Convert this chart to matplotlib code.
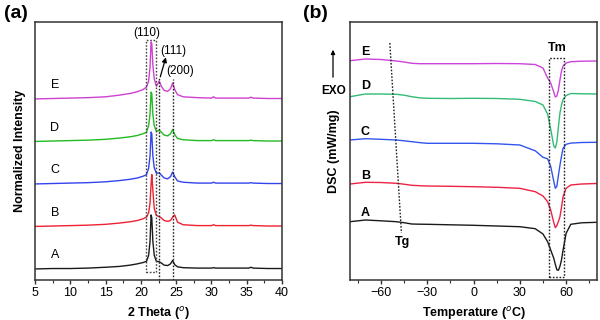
import matplotlib
matplotlib.use("Agg")
import matplotlib.pyplot as plt
from matplotlib.ticker import MultipleLocator, NullLocator

plt.rcParams['font.family'] = ['Liberation Sans', 'DejaVu Sans']

# ---------------- (a) XRD data ----------------
two_theta = [5, 7.5, 10, 12.5, 15, 17, 18.5, 19.5, 20.3, 20.8, 21.1, 21.3, 21.45, 21.55,
             21.7, 21.9, 22.2, 22.6, 22.9, 23.3, 23.8, 24.2, 24.5, 24.8, 25.2, 26, 28, 30,
             30.3, 30.6, 33, 35.3, 35.6, 35.9, 38, 40]
xrd_A = [0, 0.01, 0.01, 0.02, 0.04, 0.06, 0.09, 0.12, 0.15, 0.18, 0.32, 0.65, 1.27, 1.2,
         0.65, 0.32, 0.18, 0.17, 0.14, 0.09, 0.08, 0.12, 0.2, 0.1, 0.05, 0.03, 0.02, 0.02,
         0.03, 0.02, 0.02, 0.02, 0.04, 0.02, 0.01, 0.01]
xrd_B = [0, 0.01, 0.02, 0.03, 0.05, 0.08, 0.11, 0.14, 0.18, 0.22, 0.32, 0.55, 1.0, 1.22,
         0.85, 0.42, 0.26, 0.23, 0.2, 0.14, 0.12, 0.14, 0.22, 0.27, 0.1, 0.04, 0.02, 0.02,
         0.04, 0.02, 0.02, 0.02, 0.03, 0.02, 0.01, 0.01]
xrd_C = [0, 0.01, 0.02, 0.03, 0.05, 0.08, 0.11, 0.14, 0.18, 0.22, 0.37, 0.66, 1.22, 1.18,
         0.66, 0.38, 0.25, 0.26, 0.21, 0.14, 0.12, 0.17, 0.28, 0.17, 0.07, 0.04, 0.02, 0.02,
         0.04, 0.02, 0.02, 0.02, 0.03, 0.02, 0.01, 0.01]
xrd_D = [0, 0.01, 0.02, 0.03, 0.05, 0.08, 0.11, 0.14, 0.18, 0.22, 0.37, 0.64, 1.16, 1.12,
         0.64, 0.37, 0.24, 0.26, 0.22, 0.15, 0.13, 0.18, 0.28, 0.16, 0.07, 0.04, 0.02, 0.02,
         0.04, 0.02, 0.02, 0.02, 0.03, 0.02, 0.01, 0.01]
xrd_E = [0, 0.01, 0.02, 0.03, 0.05, 0.09, 0.13, 0.17, 0.22, 0.28, 0.42, 0.75, 1.34, 1.3,
         0.8, 0.47, 0.3, 0.42, 0.3, 0.2, 0.18, 0.24, 0.37, 0.22, 0.1, 0.05, 0.03, 0.02,
         0.05, 0.02, 0.02, 0.02, 0.04, 0.02, 0.01, 0.01]
xrd_offsets = [0, 1, 2, 3, 4]
sample_names = ['A', 'B', 'C', 'D', 'E']
xrd_colors = ['#1a1a1a', '#ee2233', '#3344ee', '#22bb22', '#d040d0']
xrd_xticks = [5, 10, 15, 20, 25, 30, 35, 40]

# ---------------- (b) DSC data ----------------
temperature = [-80, -70, -60, -50, -45, -40, -35, -30, -15, 0, 15, 30, 40, 45, 48, 50,
               52, 53, 54, 55, 56, 57, 58, 60, 63, 70, 80]
dsc_A = [0.06, 0.23, 0.15, 0.06, -0.04, -0.17, -0.19, -0.2, -0.25, -0.3, -0.37, -0.44,
         -0.64, -1.17, -1.94, -2.77, -3.6, -4.2, -4.75, -4.8, -4.4, -3.77, -2.8, -1.1,
         -0.2, -0.05, 0]
dsc_B = [-0.05, 0.12, 0.1, 0.02, -0.07, -0.18, -0.22, -0.25, -0.28, -0.32, -0.38, -0.48,
         -0.82, -1.25, -1.82, -2.65, -3.9, -4.42, -4.2, -3.8, -3.32, -2.4, -1.32, -0.48,
         -0.15, -0.05, 0]
dsc_C = [0.23, 0.36, 0.3, 0.23, 0.15, 0.06, -0.03, -0.1, -0.1, -0.1, -0.15, -0.27,
         -0.85, -1.5, -1.65, -2.4, -3.9, -4.6, -4.4, -3.3, -2.3, -1.4, -0.6, -0.2,
         -0.08, -0.02, 0]
dsc_D = [-0.27, 0.0, 0.0, -0.03, -0.12, -0.27, -0.38, -0.43, -0.45, -0.43, -0.45, -0.53,
         -0.75, -1.1, -2.0, -3.5, -5.2, -5.4, -4.8, -3.3, -1.9, -1.1, -0.55, -0.15,
         0.05, 0.02, 0]
dsc_E = [0.03, 0.2, 0.15, 0.0, -0.1, -0.23, -0.27, -0.27, -0.27, -0.27, -0.25, -0.27,
         -0.35, -0.7, -1.7, -2.2, -3.1, -3.6, -3.5, -2.9, -1.9, -1.0, -0.5, -0.2,
         -0.07, -0.02, 0]
dsc_offsets = [5.77, 9.65, 13.77, 18.6, 21.9]
dsc_colors = ['#1a1a1a', '#ee2244', '#3355ee', '#33bb77', '#cc44dd']
dsc_xticks = [-60, -30, 0, 30, 60]

fig = plt.figure(figsize=(6, 3.2), dpi=100)
axa = fig.add_axes([35 / 600, 40 / 320, 247 / 600, 258 / 320])
axb = fig.add_axes([350 / 600, 40 / 320, 247 / 600, 258 / 320])

for ax in (axa, axb):
    for s in ax.spines.values():
        s.set_linewidth(1.1)
        s.set_color('#333333')
    ax.set_yticks([])
    ax.tick_params(axis='x', which='major', direction='out', length=3, width=1,
                   labelsize=9, pad=2, colors='#333333', labelcolor='black')
    ax.tick_params(axis='x', which='minor', direction='out', length=2, width=0.8,
                   colors='#333333')

# ---- panel a ----
xrd_series = [xrd_A, xrd_B, xrd_C, xrd_D, xrd_E]
for name, ys, off, col in zip(sample_names, xrd_series, xrd_offsets, xrd_colors):
    axa.plot(two_theta, [y + off for y in ys], color=col, lw=1.0)
    axa.text(7.8, off + 0.18, name, fontsize=9, color='black', ha='center', va='bottom')

axa.set_xlim(5, 40)
axa.set_ylim(-0.26, 5.81)
axa.set_xticks(xrd_xticks)
axa.xaxis.set_minor_locator(MultipleLocator(2.5))
axa.set_xlabel('2 Theta ($^{o}$)', fontsize=9, fontweight='bold', labelpad=4)
axa.set_ylabel('Normalized Intensity', fontsize=9, fontweight='bold')
axa.yaxis.set_label_coords(-0.038, 0.5)

ls = (0, (1.2, 1.2))
axa.plot([20.7, 22.1, 22.1, 20.7, 20.7], [-0.07, -0.07, 5.39, 5.39, -0.07],
         color='#444444', lw=1.0, ls=ls)
axa.plot([22.6, 22.6], [-0.26, 4.52], color='#222222', lw=1.0, ls=ls)
axa.plot([24.5, 24.5], [-0.26, 4.47], color='#222222', lw=1.0, ls=ls)
axa.text(20.9, 5.55, '(110)', fontsize=8.5, ha='center', va='center')
axa.text(24.6, 5.13, '(111)', fontsize=8.5, ha='center', va='center')
axa.text(25.6, 4.66, '(200)', fontsize=8.5, ha='center', va='center')
axa.annotate('', xy=(23.55, 4.98), xytext=(22.75, 4.52),
             arrowprops=dict(arrowstyle='-|>', color='black', lw=0.9,
                             mutation_scale=7, shrinkA=0, shrinkB=0))

# ---- panel b ----
dsc_series = [dsc_A, dsc_B, dsc_C, dsc_D, dsc_E]
label_y = [6.7, 10.4, 14.83, 19.4, 22.83]
for name, ys, off, col, ly in zip(sample_names, dsc_series, dsc_offsets, dsc_colors, label_y):
    axb.plot(temperature, [y + off for y in ys], color=col, lw=1.0)
    axb.text(-70, ly, name, fontsize=9, fontweight='bold', ha='center', va='center')

axb.set_xlim(-80, 80)
axb.set_ylim(0, 25.8)
axb.set_xticks(dsc_xticks)
axb.xaxis.set_minor_locator(MultipleLocator(15))
axb.set_xlabel('Temperature ($^{o}$C)', fontsize=9, fontweight='bold', labelpad=4)
axb.set_ylabel('DSC (mW/mg)', fontsize=9, fontweight='bold')
axb.yaxis.set_label_coords(-0.042, 0.5)

axb.plot([-54.2, -46.7], [23.7, 4.7], color='#222222', lw=1.0, ls=ls)
axb.text(-46, 3.8, 'Tg', fontsize=9, fontweight='bold', ha='center', va='center')
axb.plot([49.2, 58.3, 58.3, 49.2, 49.2], [0.33, 0.33, 22.23, 22.23, 0.33],
         color='#222222', lw=1.0, ls=ls)
axb.text(54, 23.2, 'Tm', fontsize=9, fontweight='bold', ha='center', va='center')

# EXO arrow
fig.add_artist(matplotlib.patches.FancyArrowPatch(
    (333 / 600, 1 - 80 / 320), (333 / 600, 1 - 47 / 320), transform=fig.transFigure,
    arrowstyle='-|>', mutation_scale=6, color='black', lw=0.9))
fig.text(334 / 600, 1 - 90.7 / 320, 'EXO', fontsize=8.5, fontweight='bold',
         ha='center', va='center')

fig.text(4 / 600, 1 - 14 / 320, '(a)', fontsize=14, fontweight='bold', ha='left', va='center')
fig.text(303 / 600, 1 - 14 / 320, '(b)', fontsize=14, fontweight='bold', ha='left', va='center')

fig.savefig('out.png', dpi=100)
